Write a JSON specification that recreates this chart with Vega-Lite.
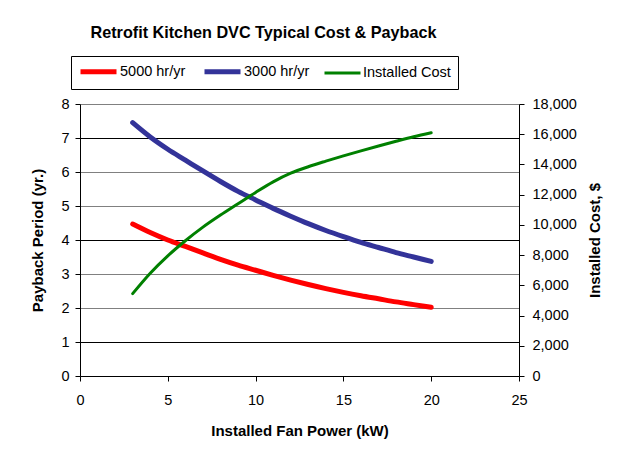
{
  "$schema": "https://vega.github.io/schema/vega-lite/v6.json",
  "width": 439,
  "height": 272,
  "autosize": {"type": "none"},
  "padding": {"left": 80, "top": 104, "right": 102, "bottom": 79},
  "background": "white",
  "config": {
    "font": "Liberation Sans",
    "view": {"stroke": null},
    "axis": {"labelColor": "black", "titleColor": "black", "domainColor": "black", "tickColor": "black", "labelFontSize": 14.5, "titleFontSize": 15, "titleFontWeight": "bold", "tickSize": 5, "labelFont": "Liberation Sans", "titleFont": "Liberation Sans"}
  },
  "title": {"text": "Retrofit Kitchen DVC Typical Cost & Payback", "fontSize": 16.2, "fontWeight": "bold", "font": "Liberation Sans", "color": "black", "anchor": "middle", "dx": -36, "offset": -2, "baseline": "bottom"},
  "data": {"values": [
    {"kW": 3, "series": "5000 hr/yr", "value": 4.47},
    {"kW": 4, "series": "5000 hr/yr", "value": 4.22},
    {"kW": 5, "series": "5000 hr/yr", "value": 4.0},
    {"kW": 6, "series": "5000 hr/yr", "value": 3.81},
    {"kW": 7, "series": "5000 hr/yr", "value": 3.62},
    {"kW": 8, "series": "5000 hr/yr", "value": 3.43},
    {"kW": 9, "series": "5000 hr/yr", "value": 3.26},
    {"kW": 10, "series": "5000 hr/yr", "value": 3.11},
    {"kW": 11, "series": "5000 hr/yr", "value": 2.96},
    {"kW": 12, "series": "5000 hr/yr", "value": 2.82},
    {"kW": 13, "series": "5000 hr/yr", "value": 2.69},
    {"kW": 14, "series": "5000 hr/yr", "value": 2.57},
    {"kW": 15, "series": "5000 hr/yr", "value": 2.46},
    {"kW": 16, "series": "5000 hr/yr", "value": 2.36},
    {"kW": 17, "series": "5000 hr/yr", "value": 2.27},
    {"kW": 18, "series": "5000 hr/yr", "value": 2.18},
    {"kW": 19, "series": "5000 hr/yr", "value": 2.1},
    {"kW": 20, "series": "5000 hr/yr", "value": 2.02},
    {"kW": 3, "series": "3000 hr/yr", "value": 7.45},
    {"kW": 4, "series": "3000 hr/yr", "value": 7.03},
    {"kW": 5, "series": "3000 hr/yr", "value": 6.67},
    {"kW": 6, "series": "3000 hr/yr", "value": 6.35},
    {"kW": 7, "series": "3000 hr/yr", "value": 6.03},
    {"kW": 8, "series": "3000 hr/yr", "value": 5.72},
    {"kW": 9, "series": "3000 hr/yr", "value": 5.43},
    {"kW": 10, "series": "3000 hr/yr", "value": 5.18},
    {"kW": 11, "series": "3000 hr/yr", "value": 4.93},
    {"kW": 12, "series": "3000 hr/yr", "value": 4.7},
    {"kW": 13, "series": "3000 hr/yr", "value": 4.48},
    {"kW": 14, "series": "3000 hr/yr", "value": 4.28},
    {"kW": 15, "series": "3000 hr/yr", "value": 4.1},
    {"kW": 16, "series": "3000 hr/yr", "value": 3.93},
    {"kW": 17, "series": "3000 hr/yr", "value": 3.78},
    {"kW": 18, "series": "3000 hr/yr", "value": 3.63},
    {"kW": 19, "series": "3000 hr/yr", "value": 3.5},
    {"kW": 20, "series": "3000 hr/yr", "value": 3.37},
    {"kW": 3, "series": "Installed Cost", "value": 5450},
    {"kW": 4, "series": "Installed Cost", "value": 6800},
    {"kW": 5, "series": "Installed Cost", "value": 7950},
    {"kW": 6, "series": "Installed Cost", "value": 8950},
    {"kW": 7, "series": "Installed Cost", "value": 9850},
    {"kW": 8, "series": "Installed Cost", "value": 10650},
    {"kW": 9, "series": "Installed Cost", "value": 11400},
    {"kW": 10, "series": "Installed Cost", "value": 12150},
    {"kW": 11, "series": "Installed Cost", "value": 12850},
    {"kW": 12, "series": "Installed Cost", "value": 13420},
    {"kW": 13, "series": "Installed Cost", "value": 13850},
    {"kW": 14, "series": "Installed Cost", "value": 14220},
    {"kW": 15, "series": "Installed Cost", "value": 14570},
    {"kW": 16, "series": "Installed Cost", "value": 14900},
    {"kW": 17, "series": "Installed Cost", "value": 15220},
    {"kW": 18, "series": "Installed Cost", "value": 15530},
    {"kW": 19, "series": "Installed Cost", "value": 15830},
    {"kW": 20, "series": "Installed Cost", "value": 16100}
  ]},
  "encoding": {
    "x": {"field": "kW", "type": "quantitative", "scale": {"domain": [0, 25]},
      "axis": {"title": "Installed Fan Power (kW)", "values": [0, 5, 10, 15, 20, 25], "grid": false, "labelPadding": 12, "titlePadding": 17, "labelFlush": false}},
    "color": {"field": "series", "type": "nominal",
      "scale": {"domain": ["5000 hr/yr", "3000 hr/yr", "Installed Cost"], "range": ["#ff0000", "#333399", "#008000"]},
      "legend": {"orient": "none", "legendX": -9, "legendY": -48, "direction": "horizontal", "title": null, "symbolType": "M-1,0H5", "symbolSize": 144, "strokeColor": "black", "padding": 7, "labelFontSize": 14.5, "labelFont": "Liberation Sans", "labelColor": "black", "columnPadding": 8, "labelOffset": 25, "fillColor": "white", "symbolFillColor": "transparent"}},
    "strokeWidth": {"field": "series", "type": "nominal",
      "scale": {"type": "ordinal", "domain": ["5000 hr/yr", "3000 hr/yr", "Installed Cost"], "range": [5, 5, 3]}}
  },
  "layer": [
    {
      "transform": [{"filter": "datum.series != 'Installed Cost'"}],
      "mark": {"type": "line", "interpolate": "monotone", "strokeCap": "round"},
      "encoding": {
        "y": {"field": "value", "type": "quantitative", "scale": {"domain": [0, 8]},
          "axis": {"title": "Payback Period (yr.)", "values": [0, 1, 2, 3, 4, 5, 6, 7, 8], "grid": true,
            "gridColor": {"condition": {"test": "datum.value == 1 || datum.value == 4 || datum.value == 7", "value": "#000000"}, "value": "#808080"},
            "gridOpacity": 1, "labelPadding": 6, "titlePadding": 15}}
      }
    },
    {
      "transform": [{"filter": "datum.series == 'Installed Cost'"}],
      "mark": {"type": "line", "interpolate": "monotone", "strokeCap": "round"},
      "encoding": {
        "y": {"field": "value", "type": "quantitative", "scale": {"domain": [0, 18000]},
          "axis": {"orient": "right", "title": "Installed Cost, $", "values": [0, 2000, 4000, 6000, 8000, 10000, 12000, 14000, 16000, 18000], "format": ",.0f", "grid": false, "labelPadding": 8, "titlePadding": 26, "titleAngle": 270}}
      }
    }
  ],
  "resolve": {"scale": {"y": "independent"}}
}
